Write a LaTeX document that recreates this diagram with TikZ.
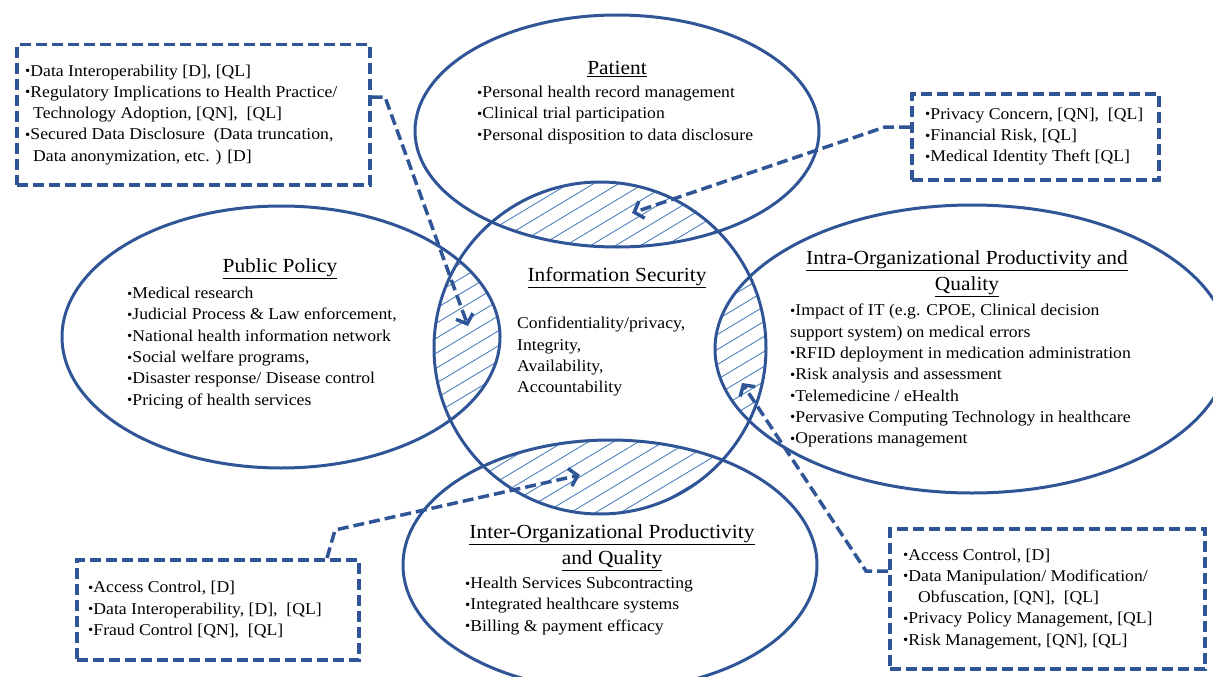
\documentclass[tikz,border=0pt]{standalone}
\usepackage{fontspec}
\setmainfont{Liberation Serif}[FakeStretch=1.07]
\usepackage{tikz}
\usetikzlibrary{arrows.meta}
\usepackage{xcolor}
\definecolor{ringblue}{HTML}{2F5597}
\definecolor{hatchblue}{HTML}{4F81BD}
\newcommand{\bul}{\raisebox{0.5pt}{\fontsize{14}{14}\selectfont\textbullet}}
\newcommand{\listfont}{\fontsize{16.5}{21.3}\selectfont}
\newcommand{\titlefont}{\fontsize{20}{26}\selectfont}

\begin{document}
\begin{tikzpicture}[x=1pt, y=-1pt, >={Straight Barb[length=8pt,width=18pt]},
    ring/.style={line width=3pt, color=ringblue},
    hatchline/.style={line width=0.9pt, color=hatchblue},
    dashbox/.style={draw=ringblue, line width=3.5pt, dash pattern=on 11pt off 5pt, anchor=north west, inner sep=0pt},
    link/.style={->, line width=3.5pt, color=ringblue, dash pattern=on 11pt off 5pt},
    title/.style={font=\titlefont, align=center, inner sep=0pt},
    list/.style={font=\listfont, align=left, anchor=north west, inner sep=0pt}]
    \useasboundingbox (0,0) rectangle (1213,677);

    % Centres of the rings
    \coordinate (secC) at (600,348);
    \coordinate (patC) at (617,131);
    \coordinate (polC) at (281,337);
    \coordinate (intraC) at (972,349);
    \coordinate (interC) at (610,565);

    % Hatched overlaps with the security circle
    \foreach \e/\rx/\ry in {patC/202/116, polC/219/131, intraC/257/144, interC/207/125} {
        \begin{scope}
            \clip (secC) circle (166pt);
            \clip (\e) ellipse [x radius=\rx pt, y radius=\ry pt];
            \foreach \k in {0,...,95}
                \draw[hatchline] (0,\k*15) -- ++(1213,-728);
        \end{scope}
    }

    % Rings
    \draw[ring] (patC) ellipse [x radius=202pt, y radius=116pt];
    \draw[ring] (polC) ellipse [x radius=219pt, y radius=131pt];
    \draw[ring] (intraC) ellipse [x radius=257pt, y radius=144pt];
    \draw[ring] (interC) ellipse [x radius=207pt, y radius=125pt];
    \draw[ring] (secC) circle (166pt);

    % Patient
    \node[title] (patTitle) at (617,69) {\underline{Patient}};
    \node[list] (patList) at (477,86) {\bul Personal health record management\\
        \bul Clinical trial participation\\
        \bul Personal disposition to data disclosure};

    % Public policy
    \node[title] (polTitle) at (280,269) {\underline{Public Policy}};
    \node[list] (polList) at (127,287) {\bul Medical research\\
        \bul Judicial Process \& Law enforcement,\\
        \bul National health information network\\
        \bul Social welfare programs,\\
        \bul Disaster response/ Disease control\\
        \bul Pricing of health services};

    % Information security
    \node[title] (secTitle) at (617,278) {\underline{Information Security}};
    \node[list] (secList) at (517,317) {Confidentiality/privacy,\\
        Integrity,\\
        Availability,\\
        Accountability};

    % Intra-organizational
    \node[title] (intraTitle) at (967,274) {\underline{Intra-Organizational Productivity and}\\\underline{Quality}};
    \node[list] (intraList) at (790,304) {\bul Impact of IT (e.g. CPOE, Clinical decision\\
        support system) on medical errors\\
        \bul RFID deployment in medication administration\\
        \bul Risk analysis and assessment\\
        \bul Telemedicine / eHealth\\
        \bul Pervasive Computing Technology in healthcare\\
        \bul Operations management};

    % Inter-organizational
    \node[title] (interTitle) at (612,548) {\underline{Inter-Organizational Productivity}\\\underline{and Quality}};
    \node[list] (interList) at (465,577) {\bul Health Services Subcontracting\\
        \bul Integrated healthcare systems\\
        \bul Billing \& payment efficacy};

    % Dashed boxes
    \node[dashbox, minimum width=353pt, minimum height=140pt] (tlBox) at (15,43) {};
    \node[list, anchor=west] (tlList) at ([xshift=10pt]tlBox.west) {\bul Data Interoperability [D], [QL]\\
        \bul Regulatory Implications to Health Practice/\\
        \hspace*{8pt}Technology Adoption, [QN], \ [QL]\\
        \bul Secured Data Disclosure \ (Data truncation,\\
        \hspace*{8pt}Data anonymization, etc. ) [D]};

    \node[dashbox, minimum width=247pt, minimum height=86pt] (trBox) at (910,92) {};
    \node[list, anchor=west] (trList) at ([xshift=15pt]trBox.west) {\bul Privacy Concern, [QN], \ [QL]\\
        \bul Financial Risk, [QL]\\
        \bul Medical Identity Theft [QL]};

    \node[dashbox, minimum width=282pt, minimum height=100pt] (blBox) at (75,558) {};
    \node[list, anchor=west] (blList) at ([xshift=13pt]blBox.west) {\bul Access Control, [D]\\
        \bul Data Interoperability, [D], \ [QL]\\
        \bul Fraud Control [QN], \ [QL]};

    \node[dashbox, minimum width=315pt, minimum height=140pt] (brBox) at (888,527) {};
    \node[list, anchor=west] (brList) at ([xshift=15pt]brBox.west) {\bul Access Control, [D]\\
        \bul Data Manipulation/ Modification/\\
        \hspace*{15pt}Obfuscation, [QN], \ [QL]\\
        \bul Privacy Policy Management, [QL]\\
        \bul Risk Management, [QN], [QL]};

    % Dashed pointers into the overlaps
    \coordinate (tlBend) at (385,97);
    \coordinate (tlTip) at (468,326);
    \coordinate (trBend) at (885,127);
    \coordinate (trTip) at (632,213);
    \coordinate (blBend) at (335,530);
    \coordinate (blTip) at (580,475);
    \coordinate (brBend) at (866,571);
    \coordinate (brTip) at (742,383);
    \draw[link] (tlBox.east |- tlBend) -- (tlBend) -- (tlTip);
    \draw[link] (trBox.west |- trBend) -- (trBend) -- (trTip);
    \draw[link] ([xshift=-8pt]blBend |- blBox.north) -- (blBend) -- (blTip);
    \draw[link] (brBox.west |- brBend) -- (brBend) -- (brTip);
\end{tikzpicture}
\end{document}
